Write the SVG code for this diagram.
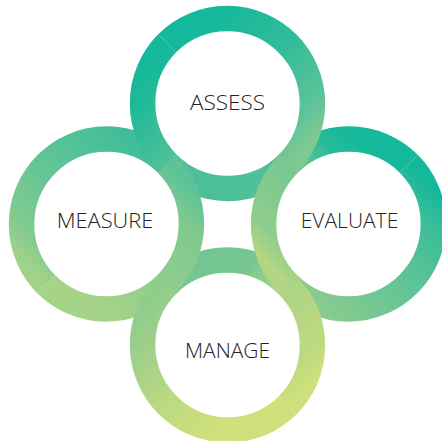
<svg xmlns="http://www.w3.org/2000/svg" width="442" height="441" viewBox="0 0 442 441">
  <defs>
    <!-- each ring is split into two half-arcs; every half carries its own gradient
         running from its start point to its end point -->
    <linearGradient id="gAssessFront" gradientUnits="userSpaceOnUse" x1="167.22" y1="43.22" x2="287.78" y2="163.78">
      <stop offset="0" stop-color="#14b89a"/>
      <stop offset="0.146" stop-color="#17b99a"/>
      <stop offset="0.5" stop-color="#32bc99"/>
      <stop offset="0.854" stop-color="#5cc399"/>
      <stop offset="1" stop-color="#7ec891"/>
    </linearGradient>
    <linearGradient id="gAssessBack" gradientUnits="userSpaceOnUse" x1="287.78" y1="163.78" x2="167.22" y2="43.22">
      <stop offset="0" stop-color="#52c198"/>
      <stop offset="0.146" stop-color="#4abf98"/>
      <stop offset="0.5" stop-color="#50c098"/>
      <stop offset="0.854" stop-color="#20ba99"/>
      <stop offset="1" stop-color="#14b89a"/>
    </linearGradient>
    <linearGradient id="gEvaluateBack" gradientUnits="userSpaceOnUse" x1="408.78" y1="163.72" x2="288.22" y2="284.28">
      <stop offset="0" stop-color="#14b89a"/>
      <stop offset="0.146" stop-color="#38bd99"/>
      <stop offset="0.5" stop-color="#60c496"/>
      <stop offset="0.854" stop-color="#7fc990"/>
      <stop offset="1" stop-color="#8ccc8c"/>
    </linearGradient>
    <linearGradient id="gEvaluateFront" gradientUnits="userSpaceOnUse" x1="288.22" y1="284.28" x2="408.78" y2="163.72">
      <stop offset="0" stop-color="#b2d684"/>
      <stop offset="0.146" stop-color="#8ecd8c"/>
      <stop offset="0.5" stop-color="#78c791"/>
      <stop offset="0.74" stop-color="#26bb99"/>
      <stop offset="0.854" stop-color="#18b99a"/>
      <stop offset="1" stop-color="#14b89a"/>
    </linearGradient>
    <linearGradient id="gManageBack" gradientUnits="userSpaceOnUse" x1="167.22" y1="284.72" x2="287.78" y2="405.28">
      <stop offset="0" stop-color="#72c593"/>
      <stop offset="0.146" stop-color="#76c692"/>
      <stop offset="0.26" stop-color="#78c791"/>
      <stop offset="0.5" stop-color="#acd485"/>
      <stop offset="0.854" stop-color="#bcd97f"/>
      <stop offset="1" stop-color="#cde07b"/>
    </linearGradient>
    <linearGradient id="gManageFront" gradientUnits="userSpaceOnUse" x1="287.78" y1="405.28" x2="167.22" y2="284.72">
      <stop offset="0" stop-color="#cde07b"/>
      <stop offset="0.146" stop-color="#d2e17a"/>
      <stop offset="0.5" stop-color="#bcda7f"/>
      <stop offset="0.854" stop-color="#9ccf8a"/>
      <stop offset="1" stop-color="#8fcd8c"/>
    </linearGradient>
    <linearGradient id="gMeasureBack" gradientUnits="userSpaceOnUse" x1="46.22" y1="284.28" x2="166.78" y2="163.72">
      <stop offset="0" stop-color="#a0d288"/>
      <stop offset="0.146" stop-color="#82ca8f"/>
      <stop offset="0.5" stop-color="#62c496"/>
      <stop offset="0.854" stop-color="#48bf98"/>
      <stop offset="1" stop-color="#3cbd98"/>
    </linearGradient>
    <linearGradient id="gMeasureFront" gradientUnits="userSpaceOnUse" x1="166.78" y1="163.72" x2="46.22" y2="284.28">
      <stop offset="0" stop-color="#5cc397"/>
      <stop offset="0.146" stop-color="#7ec98f"/>
      <stop offset="0.5" stop-color="#8ecd8c"/>
      <stop offset="0.854" stop-color="#a4d387"/>
      <stop offset="1" stop-color="#a6d487"/>
    </linearGradient>
  </defs>
  <style>
    .arc { fill: none; stroke-width: 25.5; }
    .label { font-family: "Open Sans", "Liberation Sans", sans-serif; font-size: 21px; font-weight: 350; fill: #222222; text-anchor: middle; }
  </style>

  <rect width="442" height="441" fill="#ffffff"/>

  <!-- interlocking rings: half-arcs stacked so each pair weaves over and under -->
  <g id="rings">
    <path id="evaluate-back" class="arc" stroke="url(#gEvaluateBack)" d="M408.78 163.72 A85.25 85.25 0 0 1 288.22 284.28"/>
    <path id="measure-back" class="arc" stroke="url(#gMeasureBack)" d="M46.22 284.28 A85.25 85.25 0 0 1 166.78 163.72"/>
    <path id="manage-back" class="arc" stroke="url(#gManageBack)" d="M167.22 284.72 A85.25 85.25 0 0 1 287.78 405.28"/>
    <path id="assess-back" class="arc" stroke="url(#gAssessBack)" d="M287.78 163.78 A85.25 85.25 0 0 1 167.22 43.22"/>
    <path id="measure-front" class="arc" stroke="url(#gMeasureFront)" d="M166.78 163.72 A85.25 85.25 0 0 1 46.22 284.28"/>
    <path id="manage-front" class="arc" stroke="url(#gManageFront)" d="M287.78 405.28 A85.25 85.25 0 0 1 167.22 284.72"/>
    <path id="evaluate-front" class="arc" stroke="url(#gEvaluateFront)" d="M288.22 284.28 A85.25 85.25 0 0 1 408.78 163.72"/>
    <path id="assess-front" class="arc" stroke="url(#gAssessFront)" d="M167.22 43.22 A85.25 85.25 0 0 1 287.78 163.78"/>
  </g>

  <g id="assess">
    <text class="label" x="227.5" y="109.5" textLength="75" lengthAdjust="spacingAndGlyphs">ASSESS</text>
  </g>
  <g id="measure">
    <text class="label" x="105" y="228.3" textLength="96.5" lengthAdjust="spacingAndGlyphs">MEASURE</text>
  </g>
  <g id="evaluate">
    <text class="label" x="349.5" y="228.3" textLength="97.5" lengthAdjust="spacingAndGlyphs">EVALUATE</text>
  </g>
  <g id="manage">
    <text class="label" x="227.5" y="358.3" textLength="85" lengthAdjust="spacingAndGlyphs">MANAGE</text>
  </g>
</svg>
